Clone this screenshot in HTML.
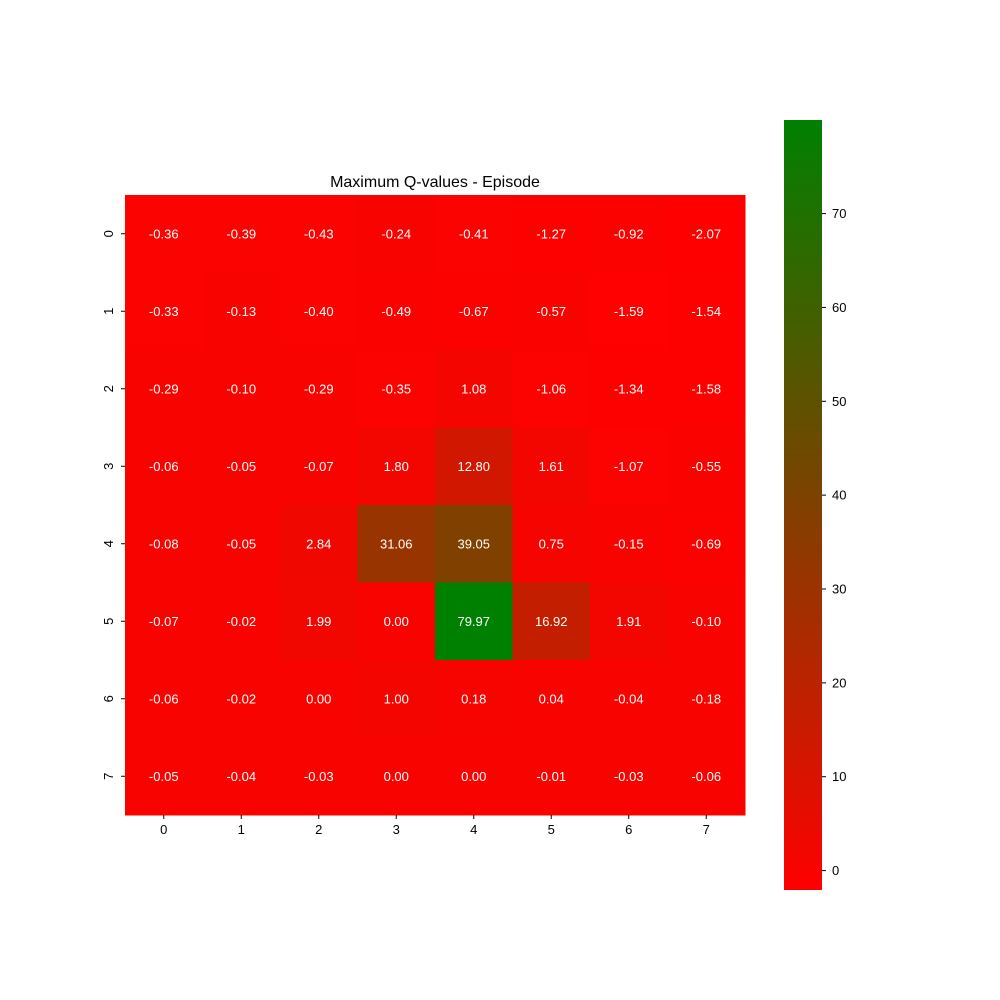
<!DOCTYPE html>
<html><head><meta charset="utf-8"><style>
html,body{margin:0;padding:0;background:#fff;}
svg{display:block;font-family:"Liberation Sans","DejaVu Sans",sans-serif;}
</style></head><body>
<svg id="chart" width="1000" height="1000" viewBox="0 0 1000 1000" xmlns="http://www.w3.org/2000/svg">
<defs><linearGradient id="cbgrad" x1="0" y1="1" x2="0" y2="0"><stop offset="0" stop-color="#ff0000"/><stop offset="1" stop-color="#008000"/></linearGradient></defs>
<text x="435" y="187" text-anchor="middle" font-size="16" fill="#000">Maximum Q-values - Episode</text>
<g id="cells"></g>
<g id="axes"></g>
<rect x="784" y="120" width="38" height="770" fill="url(#cbgrad)"/>
<g id="cbticks"></g>
</svg>
<script>
const rowLabels = ["0","1","2","3","4","5","6","7"];
const colLabels = ["0","1","2","3","4","5","6","7"];
const values = [
[-0.36,-0.39,-0.43,-0.24,-0.41,-1.27,-0.92,-2.07],
[-0.33,-0.13,-0.40,-0.49,-0.67,-0.57,-1.59,-1.54],
[-0.29,-0.10,-0.29,-0.35,1.08,-1.06,-1.34,-1.58],
[-0.06,-0.05,-0.07,1.80,12.80,1.61,-1.07,-0.55],
[-0.08,-0.05,2.84,31.06,39.05,0.75,-0.15,-0.69],
[-0.07,-0.02,1.99,0.00,79.97,16.92,1.91,-0.10],
[-0.06,-0.02,0.00,1.00,0.18,0.04,-0.04,-0.18],
[-0.05,-0.04,-0.03,0.00,0.00,-0.01,-0.03,-0.06]
];
const cbTicks = [0,10,20,30,40,50,60,70];

const NS="http://www.w3.org/2000/svg";
const X0=125,Y0=195,W=620,H=620;
const nR=values.length,nC=values[0].length;
const cw=W/nC,ch=H/nR;
const flat=values.flat();
const vmin=Math.min(...flat),vmax=Math.max(...flat);
function color(v){const t=(v-vmin)/(vmax-vmin);const r=Math.round(255*(1-t)),g=Math.round(128*t);return `rgb(${r},${g},0)`;}
function mk(tag,attrs,parent){const e=document.createElementNS(NS,tag);for(const k in attrs)e.setAttribute(k,attrs[k]);parent.appendChild(e);return e;}
const cells=document.getElementById('cells'),axes=document.getElementById('axes'),cbt=document.getElementById('cbticks');
for(let i=0;i<nR;i++)for(let j=0;j<nC;j++){
  const v=values[i][j];
  const r=mk('rect',{x:X0+j*cw,y:Y0+i*ch,width:cw+0.5,height:ch+0.5,fill:color(v)},cells);
  
  
  const t=mk('text',{x:X0+(j+0.5)*cw,y:Y0+(i+0.5)*ch+4.5,'text-anchor':'middle','font-size':13,fill:'#fff'},cells);
  t.textContent=v.toFixed(2);
  
  
}
colLabels.forEach((l,j)=>{
  const x=X0+(j+0.5)*cw;
  mk('line',{x1:x,x2:x,y1:Y0+H,y2:Y0+H+4,stroke:'#000','stroke-width':1},axes);
  const t=mk('text',{x:x,y:Y0+H+19,'text-anchor':'middle','font-size':13,fill:'#000'},axes);
  t.textContent=l;
  
  
});
rowLabels.forEach((l,i)=>{
  const y=Y0+(i+0.5)*ch;
  mk('line',{x1:X0-4,x2:X0,y1:y,y2:y,stroke:'#000','stroke-width':1},axes);
  const t=mk('text',{x:0,y:0,transform:`translate(${X0-12},${y}) rotate(-90)`,'text-anchor':'middle','font-size':13,fill:'#000'},axes);
  t.textContent=l;
  
  
});
const CBY0=120,CBH=770;
function cbY(v){return CBY0+CBH*(1-(v-vmin)/(vmax-vmin));}
cbTicks.forEach(v=>{
  const y=cbY(v);
  mk('line',{x1:822,x2:826,y1:y,y2:y,stroke:'#000','stroke-width':1},cbt);
  const t=mk('text',{x:832,y:y+4.5,'font-size':13,fill:'#000'},cbt);
  t.textContent=String(v);
  
  
});
</script>
</body></html>
